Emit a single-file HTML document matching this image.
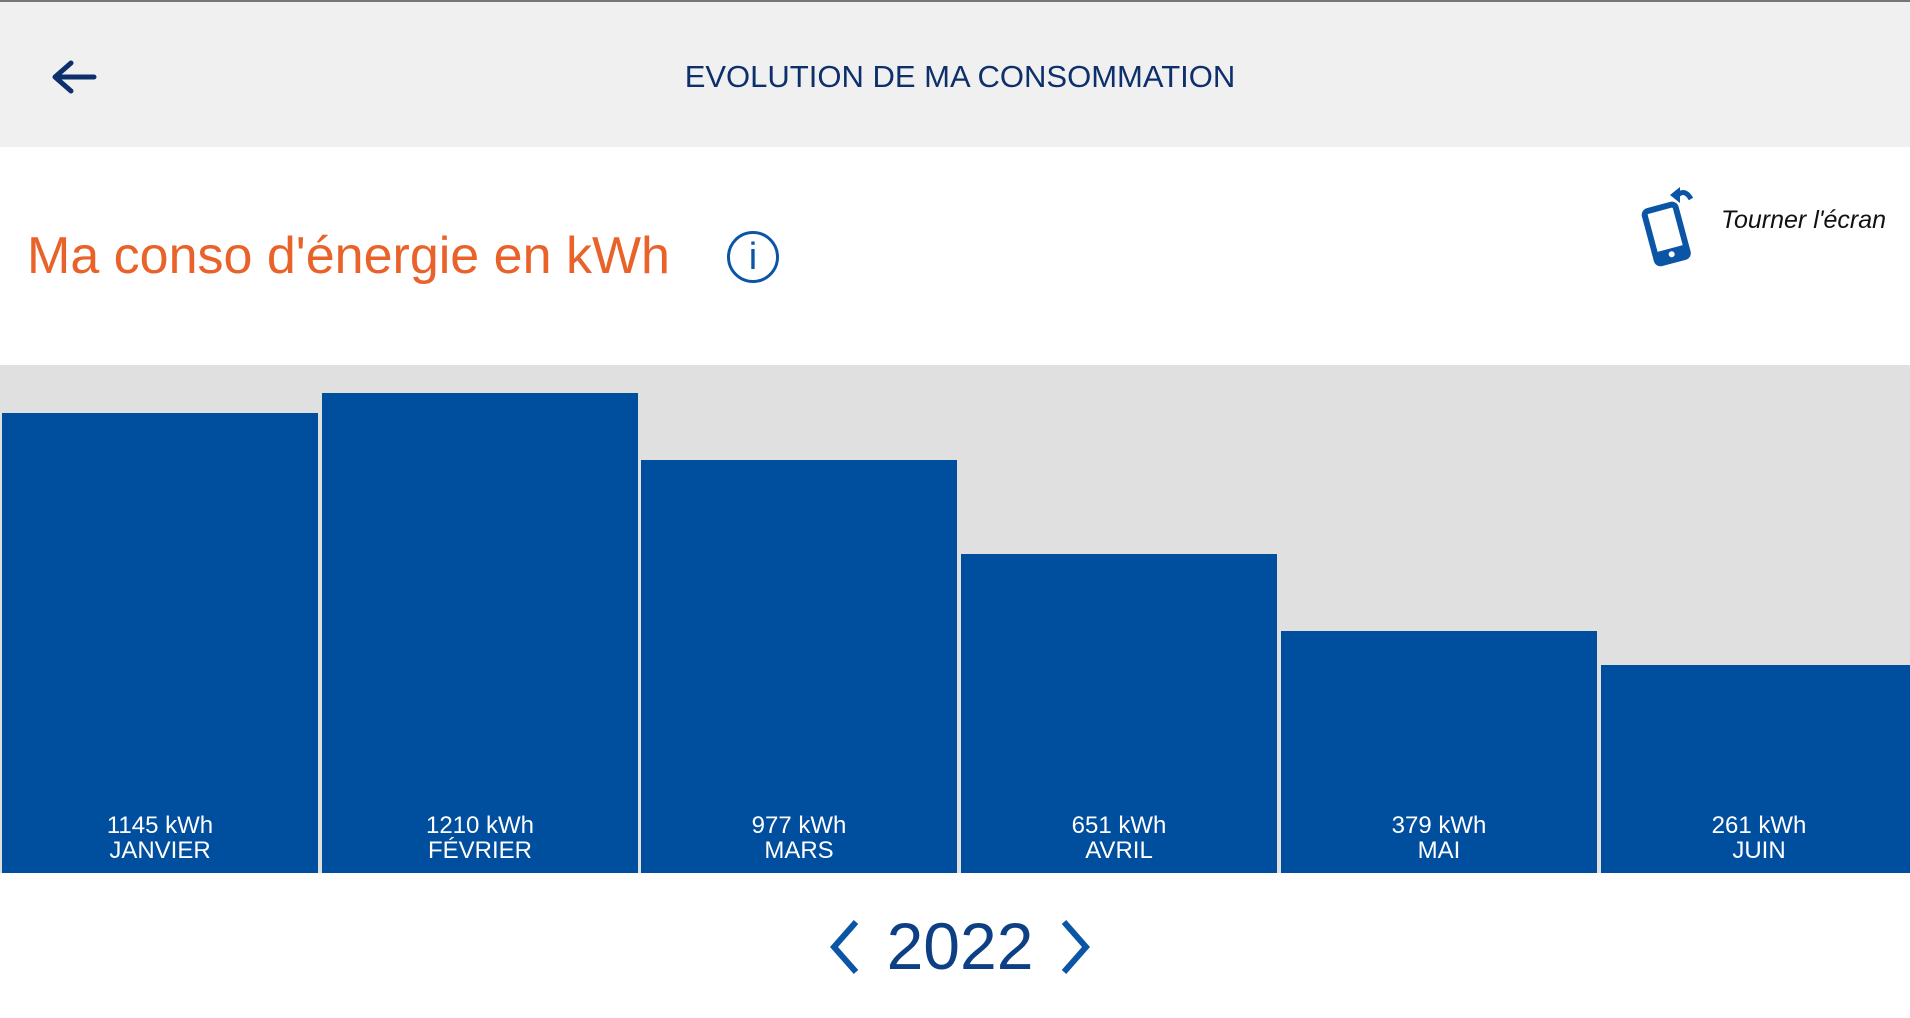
<!DOCTYPE html>
<html><head><meta charset="utf-8"><style>
*{margin:0;padding:0;box-sizing:border-box}
body{width:1910px;height:1018px;overflow:hidden;background:#fff;font-family:"Liberation Sans",sans-serif;position:relative}
.hdr{position:absolute;left:0;top:0;width:1910px;height:147px;background:#f0f0f0;border-top:2px solid #777}
.ttl{position:absolute;left:0;width:1920px;top:57px;text-align:center;font-size:31px;color:#0d2f6b;letter-spacing:0}
.h2{position:absolute;left:27px;top:226px;font-size:52px;color:#e8622a}
.info{position:absolute;left:727px;top:231px;width:52px;height:52px;border:3px solid #0b55a6;border-radius:50%;color:#0b55a6;font-size:38px;text-align:center;line-height:46px}
.rot{position:absolute;left:1721px;top:206px;font-size:25px;font-style:italic;color:#111}
.chart{position:absolute;left:0;top:365px;width:1910px;height:508px;background:#e0e0e0}
.bar{position:absolute;bottom:0;width:316px;background:#004e9e;color:#fff;font-size:24px;text-align:center;line-height:25px;padding-bottom:10px;display:flex;flex-direction:column;justify-content:flex-end}
.yr{position:absolute;left:0;width:1920px;top:908px;text-align:center;font-size:66px;color:#0d3f85}
</style></head><body>
<div class="hdr">
<svg style="position:absolute;left:50px;top:58px" width="50" height="34"><path d="M5 17H44M21 3L5 17L21 31" stroke="#0d2f6b" stroke-width="5" fill="none" stroke-linecap="round" stroke-linejoin="round"/></svg>
<div class="ttl">EVOLUTION DE MA CONSOMMATION</div>
</div>
<div class="h2">Ma conso d'énergie en kWh</div>
<div class="info">i</div>
<svg style="position:absolute;left:1636px;top:175px" width="64" height="94"><path d="M40 22 Q48 12 55 24" stroke="#0b55a6" stroke-width="5" fill="none"/><path d="M34 20L44 12L44 28Z" fill="#0b55a6"/><g transform="rotate(-15 30 58)"><rect x="14" y="32" width="32" height="54" rx="4" stroke="#0b55a6" stroke-width="6" fill="#fff"/><rect x="14" y="74" width="32" height="12" fill="#0b55a6"/><circle cx="30" cy="80" r="3" fill="#fff"/></g></svg>
<div class="rot">Tourner l'écran</div>
<div class="chart">
<div class="bar" style="left:2px;height:460px"><div>1145 kWh</div><div>JANVIER</div></div>
<div class="bar" style="left:322px;height:480px"><div>1210 kWh</div><div>FÉVRIER</div></div>
<div class="bar" style="left:641px;height:413px"><div>977 kWh</div><div>MARS</div></div>
<div class="bar" style="left:961px;height:319px"><div>651 kWh</div><div>AVRIL</div></div>
<div class="bar" style="left:1281px;height:242px"><div>379 kWh</div><div>MAI</div></div>
<div class="bar" style="left:1601px;height:208px;width:316px"><div>261 kWh</div><div>JUIN</div></div>
</div>
<svg style="position:absolute;left:826px;top:918px" width="40" height="58"><path d="M30 4L8 29L30 54" stroke="#0b55a6" stroke-width="6" fill="none"/></svg>
<svg style="position:absolute;left:1054px;top:918px" width="40" height="58"><path d="M10 4L32 29L10 54" stroke="#0b55a6" stroke-width="6" fill="none"/></svg>
<div class="yr">2022</div>
</body></html>
